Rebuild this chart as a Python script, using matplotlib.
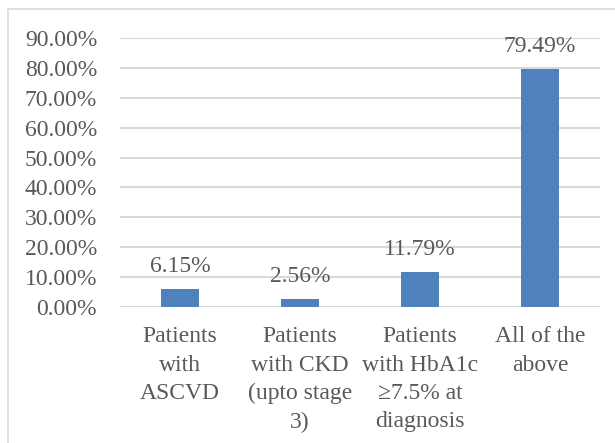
import matplotlib
matplotlib.use("Agg")
import matplotlib.pyplot as plt
from matplotlib.lines import Line2D

categories = [
    "Patients\nwith\nASCVD",
    "Patients\nwith CKD\n(upto stage\n3)",
    "Patients\nwith HbA1c\n\u22657.5% at\ndiagnosis",
    "All of the\nabove",
]
values = [6.15, 2.56, 11.79, 79.49]
yticks = [0, 10, 20, 30, 40, 50, 60, 70, 80, 90]

W, H = 615, 443
fig = plt.figure(figsize=(W / 100, H / 100), dpi=100)
plt.rcParams["font.family"] = ["Liberation Serif", "DejaVu Serif"]

text_color = "#595959"
grid_color = "#d9d9d9"
bar_color = "#4f81bd"
fs = 17

# chart frame (left and top edges)
fig.add_artist(Line2D([8 / W, 8 / W], [0, 1 - 9 / H], transform=fig.transFigure,
                      color=grid_color, lw=1.2))
fig.add_artist(Line2D([8 / W, 1], [1 - 9 / H, 1 - 9 / H], transform=fig.transFigure,
                      color=grid_color, lw=1.2))

x0, x1 = 120, 600
y0, y1 = 307, 38
ax = fig.add_axes([x0 / W, 1 - y0 / H, (x1 - x0) / W, (y0 - y1) / H])

xs = list(range(len(categories)))
ax.bar(xs, values, width=0.32, color=bar_color, zorder=3)
ax.set_xlim(-0.5, len(categories) - 0.5)
ax.set_ylim(0, 90)

for x, v in zip(xs, values):
    ax.annotate(f"{v:.2f}%", (x, v), xytext=(0, 12.2), textcoords="offset points",
                ha="center", va="baseline", fontsize=fs, color=text_color, zorder=4)

ax.set_yticks(yticks)
ax.set_yticklabels([f"{t:.2f}%" for t in yticks], fontsize=fs, color=text_color)
ax.set_xticks(xs)
ax.set_xticklabels(categories, fontsize=fs, color=text_color, linespacing=1.45)
ax.tick_params(axis="y", length=0, pad=16.5)
ax.tick_params(axis="x", length=0, pad=14)

ax.grid(axis="y", color=grid_color, lw=1.5, zorder=0)
for s in ax.spines.values():
    s.set_visible(False)

fig.savefig("out.png", dpi=100)
